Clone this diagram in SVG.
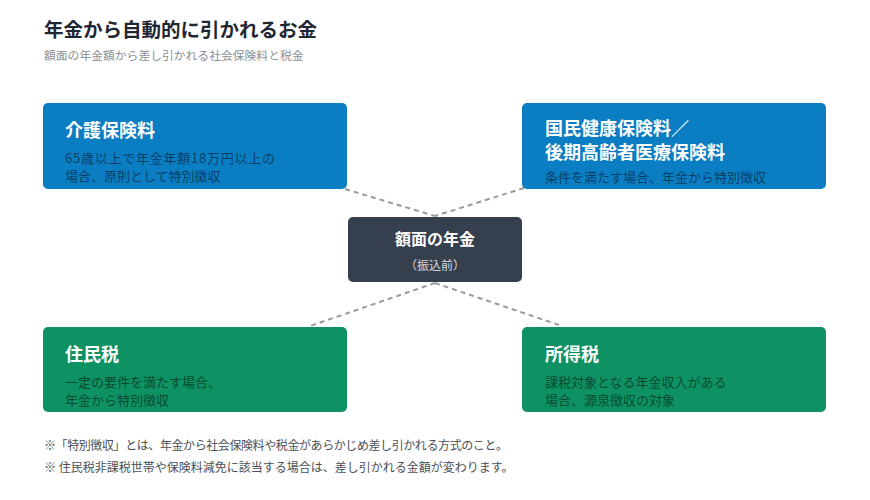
<svg xmlns="http://www.w3.org/2000/svg" width="870" height="500" viewBox="0 0 870 500">
<style>
text{font-family:"Noto Sans CJK JP","Noto Sans",sans-serif}
.title{font-size:19.5px;font-weight:700;fill:#1f2733}
.sub{font-size:11.8px;fill:#8a8f96}
.ht{font-size:18px;font-weight:700;fill:#ffffff}
.desc{font-size:13px;fill:#000000;fill-opacity:0.5}
.note{font-size:12px;fill:#4a4f57}
.blue{fill:#0b7dc3}
.green{fill:#0e9163}
.dark{fill:#363f4e}
.conn{stroke:#9a9a9a;stroke-width:2;stroke-dasharray:5 4;fill:none}
</style>
<rect width="870" height="500" fill="#ffffff"/>
<text class="title" x="44" y="37">年金から自動的に引かれるお金</text>
<text class="sub" x="44" y="60">額面の年金額から差し引かれる社会保険料と税金</text>
<g id="connectors">
<line class="conn" x1="345" y1="189" x2="435" y2="216"/>
<line class="conn" x1="524" y1="188" x2="435" y2="216"/>
<line class="conn" x1="435" y1="283" x2="310" y2="326"/>
<line class="conn" x1="435" y1="283" x2="562" y2="326"/>
</g>
<g id="kaigo">
<rect class="blue" x="43" y="103" width="304" height="86" rx="5"/>
<text class="ht" x="65" y="137">介護保険料</text>
<text class="desc" x="65" y="163" textLength="210" lengthAdjust="spacing">65歳以上で年金年額18万円以上の</text>
<text class="desc" x="65" y="181">場合、原則として特別徴収</text>
</g>
<g id="kokuho">
<rect class="blue" x="522" y="103" width="304" height="86" rx="5"/>
<text class="ht" x="545" y="135">国民健康保険料／</text>
<text class="ht" x="545" y="159">後期高齢者医療保険料</text>
<text class="desc" x="545" y="182">条件を満たす場合、年金から特別徴収</text>
</g>
<g id="center">
<rect class="dark" x="348" y="217" width="174" height="65" rx="5"/>
<text x="435" y="245" text-anchor="middle" style="font-size:16px;font-weight:700;fill:#ffffff">額面の年金</text>
<text x="435" y="270" text-anchor="middle" style="font-size:12px;fill:#d6d9de">（振込前）</text>
</g>
<g id="juminzei">
<rect class="green" x="43" y="327" width="304" height="85" rx="5"/>
<text class="ht" x="65" y="361">住民税</text>
<text class="desc" x="65" y="387">一定の要件を満たす場合、</text>
<text class="desc" x="65" y="405">年金から特別徴収</text>
</g>
<g id="shotokuzei">
<rect class="green" x="522" y="327" width="304" height="85" rx="5"/>
<text class="ht" x="545" y="361">所得税</text>
<text class="desc" x="545" y="387">課税対象となる年金収入がある</text>
<text class="desc" x="545" y="405">場合、源泉徴収の対象</text>
</g>
<text class="note" x="44" y="450" textLength="464" lengthAdjust="spacing">※「特別徴収」とは、年金から社会保険料や税金があらかじめ差し引かれる方式のこと。</text>
<text class="note" x="44" y="472">※ 住民税非課税世帯や保険料減免に該当する場合は、差し引かれる金額が変わります。</text>
</svg>
